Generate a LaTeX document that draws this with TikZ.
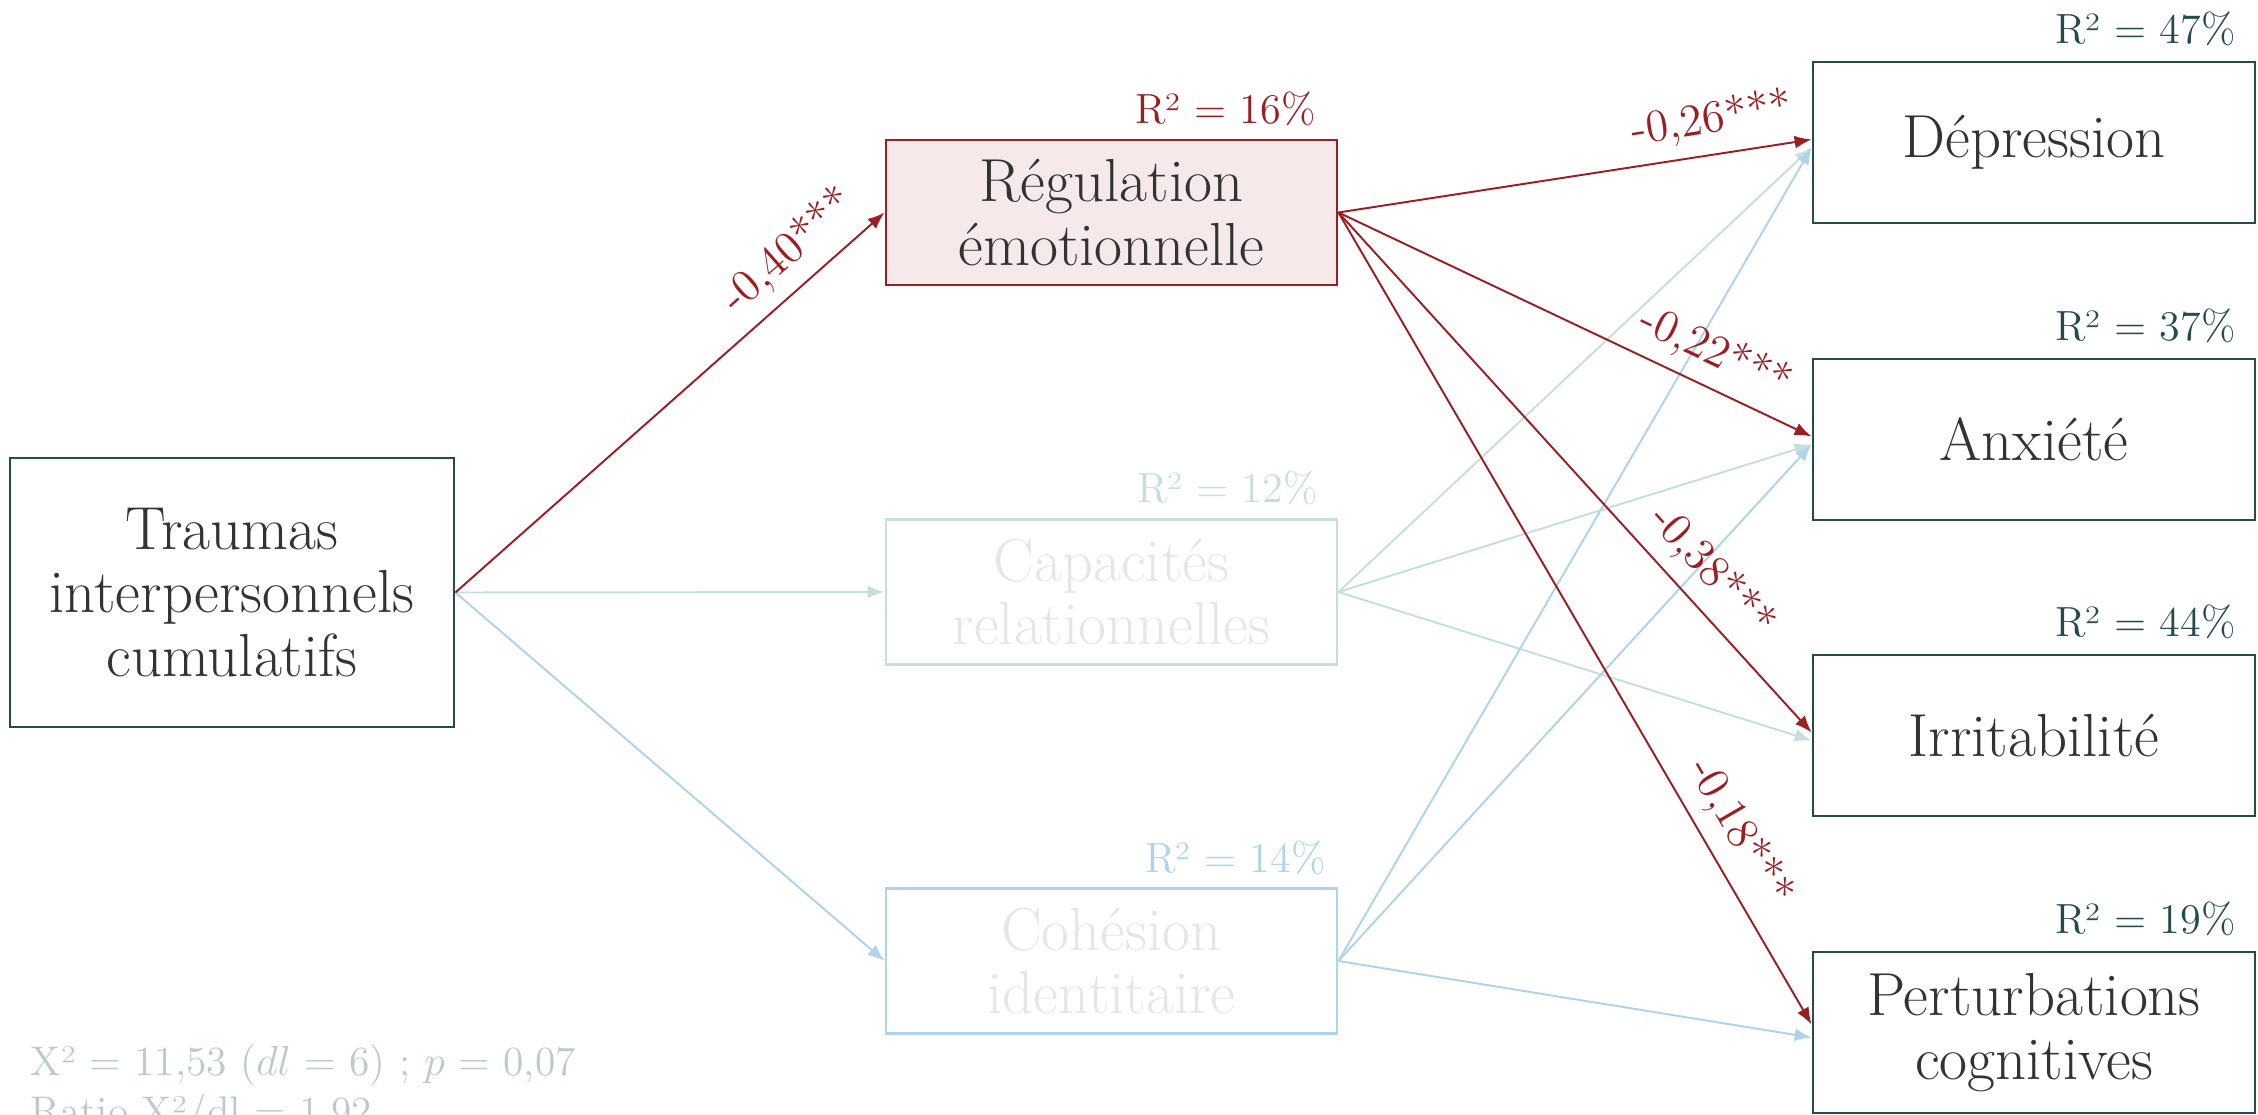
\documentclass[tikz,border=0pt]{standalone}
\usepackage{tikz}
\usetikzlibrary{arrows.meta}
\definecolor{darkred}{RGB}{155,30,34}
\definecolor{pinkfill}{RGB}{245,233,234}
\definecolor{darkteal}{RGB}{36,75,78}
\definecolor{boxtext}{RGB}{51,51,51}
\definecolor{lightteal}{RGB}{197,223,223}
\definecolor{lightblue}{RGB}{174,211,236}
\definecolor{fadetext}{RGB}{230,230,230}
\definecolor{statgrey}{RGB}{188,202,202}

\begin{document}
\begin{tikzpicture}[
  box/.style={draw=darkteal, line width=0.8pt, text=boxtext, align=center, font=\fontsize{17.3}{18}\selectfont},
  midbox/.style={box, minimum width=4.51cm, minimum height=1.45cm},
  outbox/.style={box, minimum width=4.42cm, minimum height=1.61cm},
  rsq/.style={anchor=south east, inner sep=0pt, font=\fontsize{12}{14}\selectfont},
  link/.style={line width=0.55pt, -{Latex[length=1.7mm,width=1.3mm]}},
  coef/.style={sloped, above, inner sep=3.5pt, text=darkred, font=\fontsize{13}{15}\selectfont}
]
          \useasboundingbox (0,0) rectangle (22.58,11.14);
          % boxes
          \node[box, minimum width=4.44cm, minimum height=2.69cm] (trauma) at (2.32,5.215) {Traumas\\interpersonnels\\cumulatifs};
          \node[midbox, draw=darkred, fill=pinkfill] (regul) at (11.115,9.015) {Régulation\\émotionnelle};
          \node[midbox, draw=lightteal, text=fadetext] (capac) at (11.115,5.22) {Capacités\\relationnelles};
          \node[midbox, draw=lightblue, text=fadetext] (cohes) at (11.115,1.53) {Cohésion\\identitaire};
          \node[outbox] (dep) at (20.34,9.715) {Dépression};
          \node[outbox] (anx) at (20.34,6.745) {Anxiété};
          \node[outbox] (irr) at (20.34,3.785) {Irritabilité};
          \node[outbox] (pert) at (20.34,0.815) {Perturbations\\cognitives};
          % R2
          \node[rsq, text=darkred] (rregul) at ([xshift=-0.22cm,yshift=0.12cm]regul.north east) {R² = 16\%};
          \node[rsq, text=lightteal] (rcapac) at ([xshift=-0.2cm,yshift=0.13cm]capac.north east) {R² = 12\%};
          \node[rsq, text=lightblue] (rcohes) at ([xshift=-0.12cm,yshift=0.12cm]cohes.north east) {R² = 14\%};
          \node[rsq, text=darkteal] (rdep) at ([xshift=-0.2cm,yshift=0.14cm]dep.north east) {R² = 47\%};
          \node[rsq, text=darkteal] (ranx) at ([xshift=-0.2cm,yshift=0.14cm]anx.north east) {R² = 37\%};
          \node[rsq, text=darkteal] (rirr) at ([xshift=-0.2cm,yshift=0.14cm]irr.north east) {R² = 44\%};
          \node[rsq, text=darkteal] (rpert) at ([xshift=-0.2cm,yshift=0.14cm]pert.north east) {R² = 19\%};
          % faded paths
          \draw[link, lightteal] (trauma.east) -- (capac.west);
          \draw[link, lightblue] (trauma.east) -- (cohes.west);
          \foreach \to in {dep,anx,irr}
          {
          \draw[link, lightteal] (capac.east) -- ([yshift=-0.05cm]\to.west);
          }
          \foreach \to in {dep,anx,pert}
          {
          \draw[link, lightblue] (cohes.east) -- ([yshift=-0.05cm]\to.west);
          }
          % significant paths
          \draw[link, darkred] (trauma.east) -- (regul.west) node[coef, pos=0.83] {-0,40***};
          \draw[link, darkred] (regul.east) -- ([yshift=0.03cm]dep.west) node[coef, pos=0.8] {-0,26***};
          \draw[link, darkred] (regul.east) -- ([yshift=0.03cm]anx.west) node[coef, pos=0.765] {-0,22***};
          \draw[link, darkred] (regul.east) -- ([yshift=0.03cm]irr.west) node[coef, pos=0.735] {-0,38***};
          \draw[link, darkred] (regul.east) -- ([yshift=0.08cm]pert.west) node[coef, pos=0.785] {-0,18***};
          % fit
          \node[anchor=north west, inner sep=0pt, align=left, text=statgrey, font=\fontsize{11.8}{14}\selectfont] (fit) at (0.30,0.70) {X² = 11,53 ($dl$ = 6) ; $p$ = 0,07\\Ratio X²/dl = 1,92};
\end{tikzpicture}
\end{document}
